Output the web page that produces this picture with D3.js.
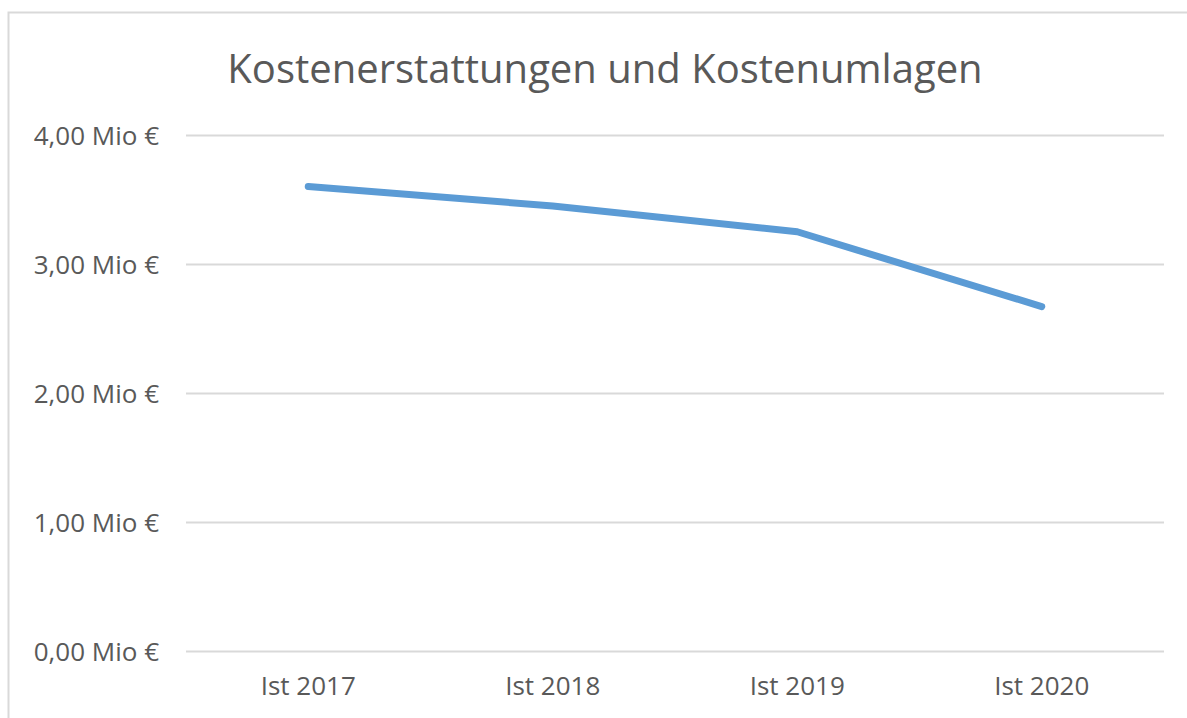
<!DOCTYPE html>
<html><head><meta charset="utf-8">
<script src="https://cdn.jsdelivr.net/npm/d3@7"></script>
<style>body{margin:0;background:#fff;}svg{display:block;}</style>
</head><body>
<svg id="chart" width="1187" height="718"></svg>
<script>
const title = "Kostenerstattungen und Kostenumlagen";
const categories = ["Ist 2017", "Ist 2018", "Ist 2019", "Ist 2020"];
const values = [3.60, 3.45, 3.25, 2.67];
const yTicks = [0, 1, 2, 3, 4];

const svg = d3.select("#chart");
const W = 1187, H = 718;
const font = "'Open Sans', 'Noto Sans', sans-serif";
const txt = "#595959";

// outer chart border
svg.append("rect").attr("x", 8.5).attr("y", 12.5).attr("width", W + 10).attr("height", H + 10)
  .attr("fill", "#fff").attr("stroke", "#d9d9d9").attr("stroke-width", 2);

const m = {left: 186, right: 1164, top: 135, bottom: 651};
const x = d3.scaleBand().domain(categories).range([m.left, m.right]);
const y = d3.scaleLinear().domain([0, 4]).range([m.bottom, m.top]);

// gridlines
svg.append("g").selectAll("line").data(yTicks).join("line")
  .attr("x1", m.left).attr("x2", m.right)
  .attr("y1", d => Math.round(y(d)) + 0.5).attr("y2", d => Math.round(y(d)) + 0.5)
  .attr("stroke", "#d9d9d9").attr("stroke-width", 2);

// y axis labels
const yAxis = d3.axisLeft(y).tickValues(yTicks).tickSize(0).tickPadding(0)
  .tickFormat(d => d3.format(".2f")(d).replace(".", ",") + " Mio €");
const gy = svg.append("g").attr("transform", `translate(${m.left - 27},0)`).call(yAxis);
gy.select(".domain").remove();
gy.selectAll("text").attr("font-family", font).attr("font-size", 26).attr("fill", txt)
  .attr("dy", "0.35em");

// x axis labels
const xAxis = d3.axisBottom(x).tickSize(0).tickPadding(0);
const gx = svg.append("g").attr("transform", `translate(0,${m.bottom + 26})`).call(xAxis);
gx.select(".domain").remove();
gx.selectAll("text").attr("font-family", font).attr("font-size", 26).attr("fill", txt)
  .attr("dy", "0.71em");

// line
const line = d3.line().x((d, i) => x(categories[i]) + x.bandwidth() / 2).y(d => y(d));
svg.append("path").datum(values).attr("d", line)
  .attr("fill", "none").attr("stroke", "#5b9bd5").attr("stroke-width", 7)
  .attr("stroke-linecap", "round").attr("stroke-linejoin", "round");

// title
svg.append("text").attr("x", 605).attr("y", 83).attr("text-anchor", "middle")
  .attr("font-family", font).attr("font-size", 40).attr("fill", txt)
  .text(title);
</script>
</body></html>
